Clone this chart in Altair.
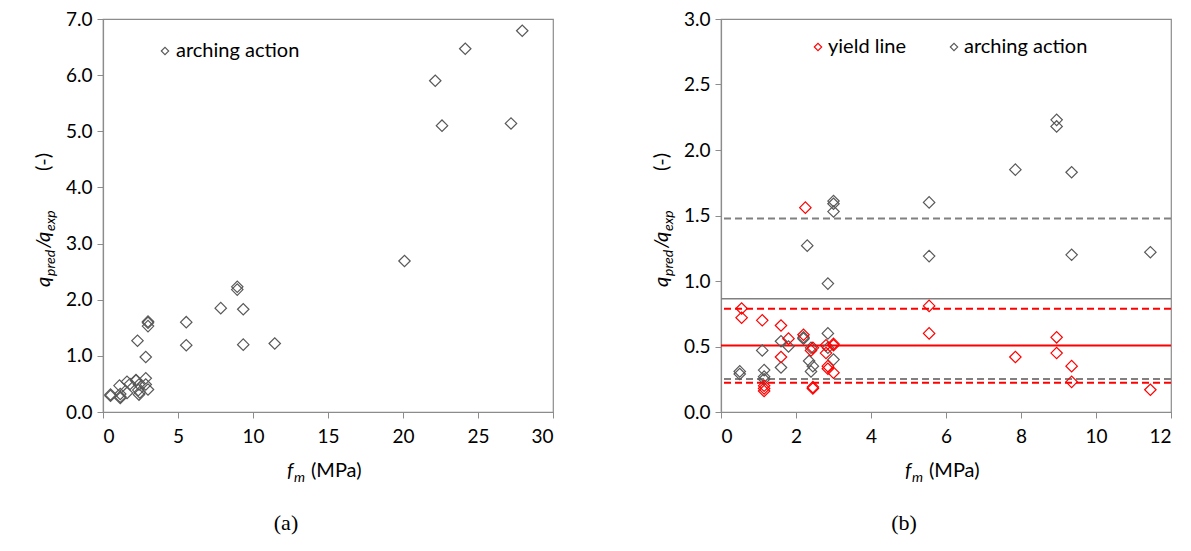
import altair as alt
import pandas as pd

# ---------------- data ----------------
# arching action (grey diamonds), all specimens
arch_fm = [0.5, 0.5, 1.1, 1.15, 1.15, 1.15, 1.6, 1.6, 1.8, 2.2, 2.2, 2.3, 2.4, 2.35,
           2.45, 2.4, 2.85, 2.85, 2.85, 3.0, 3.0, 3.0, 3.0, 5.55, 5.55, 7.85, 8.95,
           8.95, 9.35, 9.35, 11.45, 20.1, 22.15, 22.6, 24.15, 27.2, 27.95]
arch_q = [0.31, 0.29, 0.47, 0.32, 0.27, 0.25, 0.54, 0.34, 0.50, 0.56, 0.57, 1.27, 0.49, 0.39,
          0.35, 0.31, 0.98, 0.60, 0.49, 1.61, 1.59, 1.53, 0.40, 1.60, 1.19, 1.85, 2.23,
          2.18, 1.83, 1.20, 1.22, 2.69, 5.90, 5.10, 6.47, 5.14, 6.79]

# yield line (red diamonds)
yl_fm = [0.55, 0.55, 1.1, 1.15, 1.15, 1.15, 1.6, 1.6, 1.8, 2.2, 2.25, 2.4, 2.45, 2.45, 2.45,
         2.8, 2.8, 2.85, 2.85, 3.0, 3.0, 3.0, 5.55, 5.55, 7.85, 8.95, 8.95, 9.35, 9.35, 11.45]
yl_q = [0.79, 0.72, 0.70, 0.20, 0.18, 0.16, 0.66, 0.42, 0.56, 0.59, 1.56, 0.47, 0.49, 0.19, 0.18,
        0.51, 0.45, 0.35, 0.33, 0.52, 0.51, 0.30, 0.81, 0.60, 0.42, 0.57, 0.45, 0.35, 0.23, 0.17]

# mean and mean +/- SD lines of panel (b)
line_val = [0.864, 1.478, 0.251, 0.507, 0.788, 0.223]
line_grp = ["arch", "arch", "arch", "yield", "yield", "yield"]
line_kind = ["mean", "sd", "sd", "mean", "sd", "sd"]

# ---------------- style ----------------
GRAY = "#595959"
RED = "#FF0000"
LGRAY = "#808080"
AXIS = "#8c8c8c"
FONT = "Lato"
SERIF = "Liberation Serif"
W, H = 450, 393

arch = pd.DataFrame({"fm": arch_fm, "q": arch_q})
arch_b = arch[arch["fm"] <= 12]
yl = pd.DataFrame({"fm": yl_fm, "q": yl_q})
lines = pd.DataFrame({"v": line_val, "grp": line_grp, "kind": line_kind})


def txt(s, x, y, size=20, style="normal", font=FONT, angle=0, color="black",
        align="left", baseline="alphabetic"):
    return alt.Chart(pd.DataFrame({"t": [s]})).mark_text(
        font=font, fontSize=size, fontStyle=style, angle=angle, color=color,
        align=align, baseline=baseline
    ).encode(text="t:N", x=alt.value(x), y=alt.value(y))


def legend_sym(x, y, color):
    return alt.Chart(pd.DataFrame({"a": [0]})).mark_point(
        shape="diamond", filled=False, size=55, strokeWidth=1.1, color=color, opacity=1
    ).encode(x=alt.value(x), y=alt.value(y))


def ytitle():
    bx, sx = -53, -48
    return [
        txt("q", bx, 268, 20, "italic", angle=270),
        txt("pred", sx, 257, 14, "italic", angle=270),
        txt("/", bx, 229, 20, "italic", angle=270),
        txt("q", bx, 223, 20, "italic", angle=270),
        txt("exp", sx, 212, 14, "italic", angle=270),
        txt("(-)", bx, 152, 20, angle=270),
    ]


def xtitle():
    return [
        txt("f", 184, 458, 20, "italic"),
        txt("m", 191, 463, 14, "italic"),
        txt("(MPa)", 208, 458, 20),
    ]


def pts(df, xs, ys, color):
    return alt.Chart(df).mark_point(
        shape="diamond", filled=False, size=130, strokeWidth=1.2, color=color, opacity=1
    ).encode(x=xs, y=ys)


# ---------------- panel (a) ----------------
xa = alt.X("fm:Q", scale=alt.Scale(domain=[0, 30], nice=False),
           axis=alt.Axis(values=[0, 5, 10, 15, 20, 25, 30], format="d", title=None))
ya = alt.Y("q:Q", scale=alt.Scale(domain=[0, 7], nice=False),
           axis=alt.Axis(values=[0, 1, 2, 3, 4, 5, 6, 7], format=".1f", title=None))

left = alt.layer(
    pts(arch, xa, ya, GRAY),
    legend_sym(62, 32, GRAY),
    txt("arching action", 73, 32, 20, baseline="middle"),
    *ytitle(), *xtitle(),
    txt("(a)", 183, 504, 22, font=SERIF, align="center", baseline="middle"),
).properties(width=W, height=H)

# ---------------- panel (b) ----------------
xb = alt.X("fm:Q", scale=alt.Scale(domain=[0, 12], nice=False),
           axis=alt.Axis(values=[0, 2, 4, 6, 8, 10, 12], format="d", title=None))
yb = alt.Y("q:Q", scale=alt.Scale(domain=[0, 3], nice=False),
           axis=alt.Axis(values=[0, 0.5, 1, 1.5, 2, 2.5, 3], format=".1f", title=None))


def rule(grp, kind, color, width, dash=None):
    d = lines[(lines["grp"] == grp) & (lines["kind"] == kind)]
    kw = dict(color=color, strokeWidth=width)
    if dash:
        kw["strokeDash"] = dash
    return alt.Chart(d).mark_rule(**kw).encode(y=alt.Y("v:Q"))


right = alt.layer(
    rule("arch", "sd", LGRAY, 2, [7, 4]),
    rule("arch", "mean", LGRAY, 1.5),
    rule("yield", "sd", RED, 2, [7, 4]),
    rule("yield", "mean", RED, 2),
    pts(arch_b, xb, yb, GRAY),
    pts(yl, xb, yb, RED),
    legend_sym(97, 28, RED),
    txt("yield line", 107, 28, 20, baseline="middle"),
    legend_sym(233, 28, GRAY),
    txt("arching action", 243, 28, 20, baseline="middle"),
    *ytitle(), *xtitle(),
    txt("(b)", 183, 504, 22, font=SERIF, align="center", baseline="middle"),
).properties(width=W, height=H)

chart = alt.hconcat(left, right, spacing=168, bounds="flush").properties(
    padding={"left": 25, "top": 1, "right": 5, "bottom": 5}
).configure_view(stroke=AXIS, strokeWidth=1.2).configure_axis(
    labelFont=FONT, labelFontSize=19, labelColor="black", labelPadding=5,
    tickColor=AXIS, tickSize=6, domainColor=AXIS, domainWidth=1.2, grid=False
).configure_axisX(labelPadding=9)

chart.save("out.html", embed_options={"renderer": "svg", "actions": False})
